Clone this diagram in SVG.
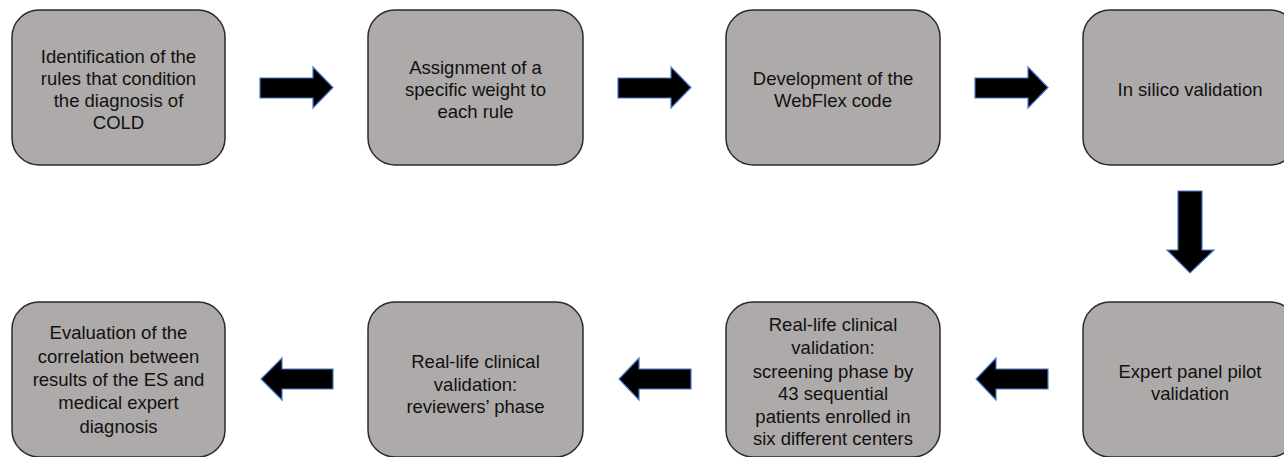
<svg xmlns="http://www.w3.org/2000/svg" width="1284" height="457" viewBox="0 0 1284 457">
<style>
.box{fill:#adaaa9;stroke:#2b2b2b;stroke-width:1.5}
.t{font-family:"Liberation Sans",Arial,sans-serif;font-size:18.5px;fill:#111;text-anchor:middle}
.arr{fill:#000;stroke:#4a78c8;stroke-width:1.2;stroke-linejoin:miter}
</style>
<rect width="1284" height="457" fill="#fff"/>
<g id="n1"><rect class="box" x="12" y="10" width="213" height="155" rx="27"/>
<text class="t"><tspan x="118.5" y="63">Identification of the</tspan><tspan x="118.5" y="85">rules that condition</tspan><tspan x="118.5" y="107">the diagnosis of</tspan><tspan x="118.5" y="129">COLD</tspan></text></g>
<g id="n2"><rect class="box" x="368" y="10" width="215" height="155" rx="27"/>
<text class="t"><tspan x="475.5" y="74">Assignment of a</tspan><tspan x="475.5" y="96">specific weight to</tspan><tspan x="475.5" y="118">each rule</tspan></text></g>
<g id="n3"><rect class="box" x="726" y="10" width="214" height="155" rx="27"/>
<text class="t"><tspan x="833" y="85">Development of the</tspan><tspan x="833" y="107">WebFlex code</tspan></text></g>
<g id="n4"><rect class="box" x="1083" y="10" width="214" height="155" rx="27"/>
<text class="t"><tspan x="1190" y="96">In silico validation</tspan></text></g>
<g id="n5"><rect class="box" x="1083" y="302" width="214" height="155" rx="27"/>
<text class="t"><tspan x="1190" y="378">Expert panel pilot</tspan><tspan x="1190" y="400">validation</tspan></text></g>
<g id="n6"><rect class="box" x="726" y="302" width="214" height="155" rx="27"/>
<text class="t"><tspan x="833" y="331">Real-life clinical</tspan><tspan x="833" y="354">validation:</tspan><tspan x="833" y="378">screening phase by</tspan><tspan x="833" y="400">43 sequential</tspan><tspan x="833" y="423">patients enrolled in</tspan><tspan x="833" y="445">six different centers</tspan></text></g>
<g id="n7"><rect class="box" x="368" y="302" width="215" height="155" rx="27"/>
<text class="t"><tspan x="475.5" y="368">Real-life clinical</tspan><tspan x="475.5" y="391">validation:</tspan><tspan x="475.5" y="413">reviewers’ phase</tspan></text></g>
<g id="n8"><rect class="box" x="12" y="302" width="213" height="155" rx="27"/>
<text class="t"><tspan x="118.5" y="339">Evaluation of the</tspan><tspan x="118.5" y="363">correlation between</tspan><tspan x="118.5" y="386">results of the ES and</tspan><tspan x="118.5" y="409">medical expert</tspan><tspan x="118.5" y="433">diagnosis</tspan></text></g>
<g id="connectors">
<polygon class="arr" points="260,78 313,78 313,67 333,87.5 313,108 313,98 260,98"/>
<polygon class="arr" points="618,78 671,78 671,67 691,87.5 671,108 671,98 618,98"/>
<polygon class="arr" points="975,78 1028,78 1028,67 1048,87.5 1028,108 1028,98 975,98"/>
<polygon class="arr" points="1178,191 1202,191 1202,250 1214,250 1190,273 1167,250 1178,250"/>
<polygon class="arr" points="1048,369 996,369 996,358 976,379 996,400 996,389 1048,389"/>
<polygon class="arr" points="691,369 639,369 639,358 619,379 639,400 639,389 691,389"/>
<polygon class="arr" points="333,369 282,369 282,358 261,379 282,400 282,389 333,389"/>
</g>
</svg>
